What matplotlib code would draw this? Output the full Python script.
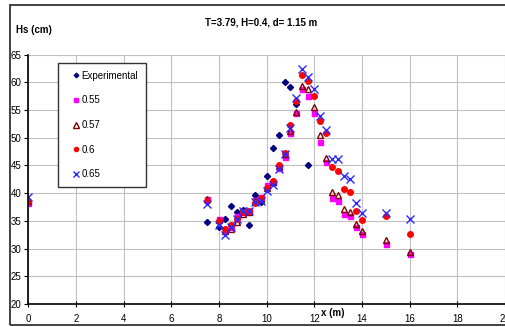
#!/usr/bin/env python3
"""
Altura de ola significativa Hs a lo largo del canal: datos experimentales
frente a modelo con cuatro coeficientes (0.55, 0.57, 0.6, 0.65).
Estilo "Excel": marco exterior, grilla gris, leyenda con recuadro.
"""

import matplotlib

matplotlib.use("Agg")
import matplotlib.pyplot as plt
from matplotlib.patches import Rectangle

# --------------------------------------------------------------------------- #
# Datos
# --------------------------------------------------------------------------- #
X_EXP = [0, 7.5, 8, 8.25, 8.5, 8.75, 9, 9.25, 9.5, 9.75, 10, 10.25, 10.5,
         10.75, 11, 11.25, 11.75]
HS_EXP = [38.5, 34.7, 33.8, 35.4, 37.6, 36.6, 37.0, 34.3, 39.7, 38.4, 43.1,
          48.2, 50.4, 60.0, 59.2, 56.0, 45.0]

X_MOD = [0, 7.5, 8, 8.25, 8.5, 8.75, 9, 9.25, 9.5, 9.75, 10, 10.25, 10.5,
         10.75, 11, 11.25, 11.5, 11.75, 12, 12.25, 12.5, 12.75, 13, 13.25,
         13.5, 13.75, 14, 15, 16]
HS_055 = [38.3, 39.0, 35.4, 33.4, 33.8, 35.8, 36.6, 36.8, 38.8, 39.3, 41.4,
          42.0, 44.6, 46.6, 50.8, 54.4, 58.8, 57.6, 54.4, 49.2, 45.6, 39.1,
          38.6, 36.2, 35.9, 33.8, 32.6, 30.8, 29.1]
HS_057 = [38.5, 39.0, 35.2, 33.2, 33.5, 34.7, 36.2, 36.6, 38.6, 39.0, 41.0,
          42.0, 44.9, 47.0, 51.2, 54.6, 59.4, 58.8, 55.5, 50.4, 46.3, 40.2,
          39.6, 37.1, 36.6, 34.4, 33.2, 31.6, 29.3]
HS_060 = [38.6, 38.6, 35.0, 33.5, 34.2, 35.4, 36.6, 36.8, 38.3, 39.2, 41.0,
          42.2, 45.0, 47.3, 52.2, 56.6, 61.3, 60.2, 57.6, 53.0, 50.8, 44.7,
          43.9, 40.7, 40.2, 36.7, 35.2, 35.8, 32.7]
HS_065 = [39.3, 38.0, 34.2, 32.4, 33.8, 35.4, 36.8, 36.8, 38.4, 38.6, 40.4,
          41.5, 44.4, 47.0, 51.8, 57.1, 62.3, 61.0, 58.8, 53.9, 51.4, 46.2,
          46.1, 43.0, 42.5, 38.3, 36.4, 36.5, 35.4]

TITULO = "T=3.79, H=0.4, d= 1.15 m"

# estilo por serie: (etiqueta, marcador, tamaño, color cara, color borde)
ESTILOS = [
    ("0.55", "s", 3.6, "#ff00ff", "#ff00ff"),
    ("0.57", "^", 5.0, "none", "#800000"),
    ("0.6", "o", 4.0, "#ff0000", "#ff0000"),
    ("0.65", "x", 5.5, "#2b2bff", "#2b2bff"),
]

plt.rcParams["font.family"] = ["Liberation Sans", "DejaVu Sans"]

W, H = 505, 327
fig = plt.figure(figsize=(W / 100, H / 100), dpi=100)

# marco exterior del gráfico
fig.patches.append(Rectangle((10 / W, 2 / H), 1.0, 1 - 7 / H,
                             transform=fig.transFigure, fill=False,
                             edgecolor="#222222", linewidth=1.2))

ax = fig.add_axes([28.3 / W, 1 - 304 / H, (W - 28.3) / W, 249.5 / H])

ax.plot(X_EXP, HS_EXP, linestyle="none", marker="D", markersize=3.1,
        color="#000080", label="Experimental")
for (etiqueta, mk, ms, cara, borde), hs in zip(ESTILOS,
                                               [HS_055, HS_057, HS_060, HS_065]):
    ax.plot(X_MOD, hs, linestyle="none", marker=mk, markersize=ms,
            markerfacecolor=cara, markeredgecolor=borde,
            markeredgewidth=1.0, label=etiqueta)

ax.set_xlim(0, 20)
ax.set_ylim(20, 65)
ax.set_xticks(range(0, 21, 2))
ax.set_yticks(range(20, 66, 5))
ax.grid(True, color="#c0c0c0", linewidth=0.8)
ax.set_axisbelow(True)

for lado in ("top", "right"):
    ax.spines[lado].set_visible(False)
for lado in ("left", "bottom"):
    ax.spines[lado].set_linewidth(1.2)
ax.tick_params(axis="x", direction="inout", length=5, labelsize=7, pad=5)
ax.tick_params(axis="y", direction="out", length=3, labelsize=7, pad=2)

fig.text(261 / W, 1 - 22.7 / H, TITULO, ha="center", va="center",
         fontsize=7, fontweight="bold")
fig.text(16 / W, 1 - 30 / H, "Hs (cm)", ha="left", va="center",
         fontsize=7, fontweight="bold")
fig.text(332.5 / W, 1 - 313 / H, "x (m)", ha="center", va="center",
         fontsize=7, fontweight="bold")

# leyenda: marcador pequeño, mucho aire a la izquierda y entre filas
leg = ax.legend(loc="upper left", bbox_to_anchor=(58 / W, 1 - 63 / H),
                bbox_transform=fig.transFigure, fontsize=7, frameon=True,
                fancybox=False, labelspacing=1.5, handlelength=2.0,
                handletextpad=-0.4, borderpad=0.8, borderaxespad=0,
                markerscale=0.75)
leg.get_frame().set_edgecolor("#333333")
leg.get_frame().set_linewidth(1.0)
leg.get_frame().set_alpha(1)

fig.savefig("out.png", dpi=100, facecolor="white")
